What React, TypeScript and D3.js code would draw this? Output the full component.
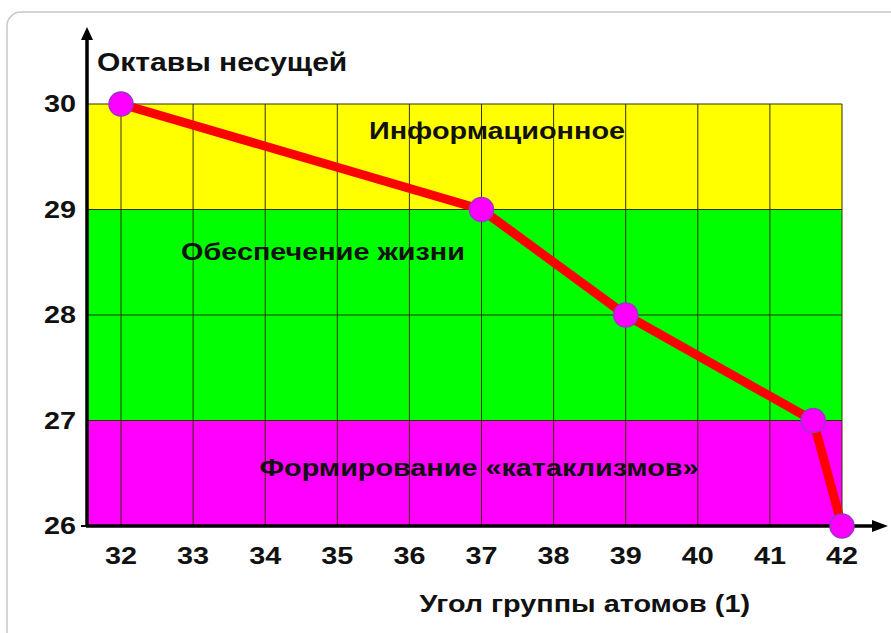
import React from "react";
import * as d3 from "d3";

const xTicks = [32, 33, 34, 35, 36, 37, 38, 39, 40, 41, 42];
const yTicks = [26, 27, 28, 29, 30];
const pointX = [32, 37, 39, 41.6, 42];
const pointY = [30, 29, 28, 27, 26];
const bandFrom = [29, 27, 26];
const bandTo = [30, 29, 27];
const bandColors = ["#ffff00", "#00ff00", "#ff00ff"];
const bandLabels = ["Информационное", "Обеспечение жизни", "Формирование «катаклизмов»"];
const bandLabelX = [497, 323, 479];
const bandLabelY = [29.75, 28.6, 26.55];
const yTitle = "Октавы несущей";
const xTitle = "Угол группы атомов (1)";

const font = "'Liberation Sans', Arial, sans-serif";
const SX = 1.2;

function T(props: { x: number; y: number; anchor?: string; size?: number; baseline?: string; children: React.ReactNode }) {
  const { x, y, anchor = "start", size = 24, baseline, children } = props;
  return (
    <g transform={`translate(${x},${y}) scale(${SX},1)`}>
      <text x={0} y={0} textAnchor={anchor} dominantBaseline={baseline}
        fontFamily={font} fontWeight="bold" fontSize={size} fill="#111">{children}</text>
    </g>
  );
}

export default function App() {
  const W = 891, H = 633;
  const x = d3.scaleLinear().domain([32, 42]).range([121, 842]);
  const y = d3.scaleLinear().domain([26, 30]).range([526, 104]);
  const x0 = x.invert(87);
  const line = d3.line<number>().x((_, i) => x(pointX[i])).y((_, i) => y(pointY[i]));
  return (
    <svg width={W} height={H} style={{ position: "absolute", left: 0, top: 0, background: "#fff" }}>
      <rect x={7} y={12} width={920} height={660} rx={14} fill="#fff" stroke="#c8c8c8" strokeWidth={1.5} />
      {bandFrom.map((f, i) => (
        <rect key={i} x={x(x0)} y={y(bandTo[i])} width={x(42) - x(x0)} height={y(f) - y(bandTo[i])} fill={bandColors[i]} />
      ))}
      {xTicks.map((t) => (
        <line key={t} x1={x(t)} x2={x(t)} y1={y(30)} y2={y(26)} stroke="#333300" strokeWidth={1} />
      ))}
      {yTicks.map((t) => (
        <line key={t} x1={x(x0)} x2={x(42)} y1={y(t)} y2={y(t)} stroke="#333300" strokeWidth={1} />
      ))}
      {bandLabels.map((l, i) => (
        <T key={i} x={bandLabelX[i]} y={y(bandLabelY[i])} anchor="middle" baseline="central">{l}</T>
      ))}
      {/* axes */}
      <line x1={x(x0)} x2={x(x0)} y1={y(26) + 1} y2={36} stroke="#000" strokeWidth={3.5} />
      <path d={`M${x(x0) - 6},${40} L${x(x0)},${27} L${x(x0) + 6},${40} Z`} fill="#000" />
      <line x1={x(x0) - 1} x2={875} y1={y(26)} y2={y(26)} stroke="#000" strokeWidth={3.5} />
      <path d={`M${872},${y(26) - 6} L${888},${y(26)} L${872},${y(26) + 6} Z`} fill="#000" />
      <line x1={x(x0) - 6} x2={x(x0)} y1={y(26)} y2={y(26)} stroke="#000" strokeWidth={2} />
      {yTicks.map((t) => (
        <T key={t} x={76} y={y(t)} anchor="end" baseline="central">{t}</T>
      ))}
      {xTicks.map((t) => (
        <T key={t} x={x(t)} y={564} anchor="middle">{t}</T>
      ))}
      <T x={97} y={71} size={25}>{yTitle}</T>
      <T x={750} y={612} anchor="end">{xTitle}</T>
      <path d={line(pointX) || ""} fill="none" stroke="#ff0000" strokeWidth={9} strokeLinejoin="round" />
      {pointX.map((px, i) => (
        <circle key={i} cx={x(px)} cy={y(pointY[i])} r={12} fill="#ff00ff" stroke="#9933cc" strokeWidth={1.5} />
      ))}
    </svg>
  );
}
